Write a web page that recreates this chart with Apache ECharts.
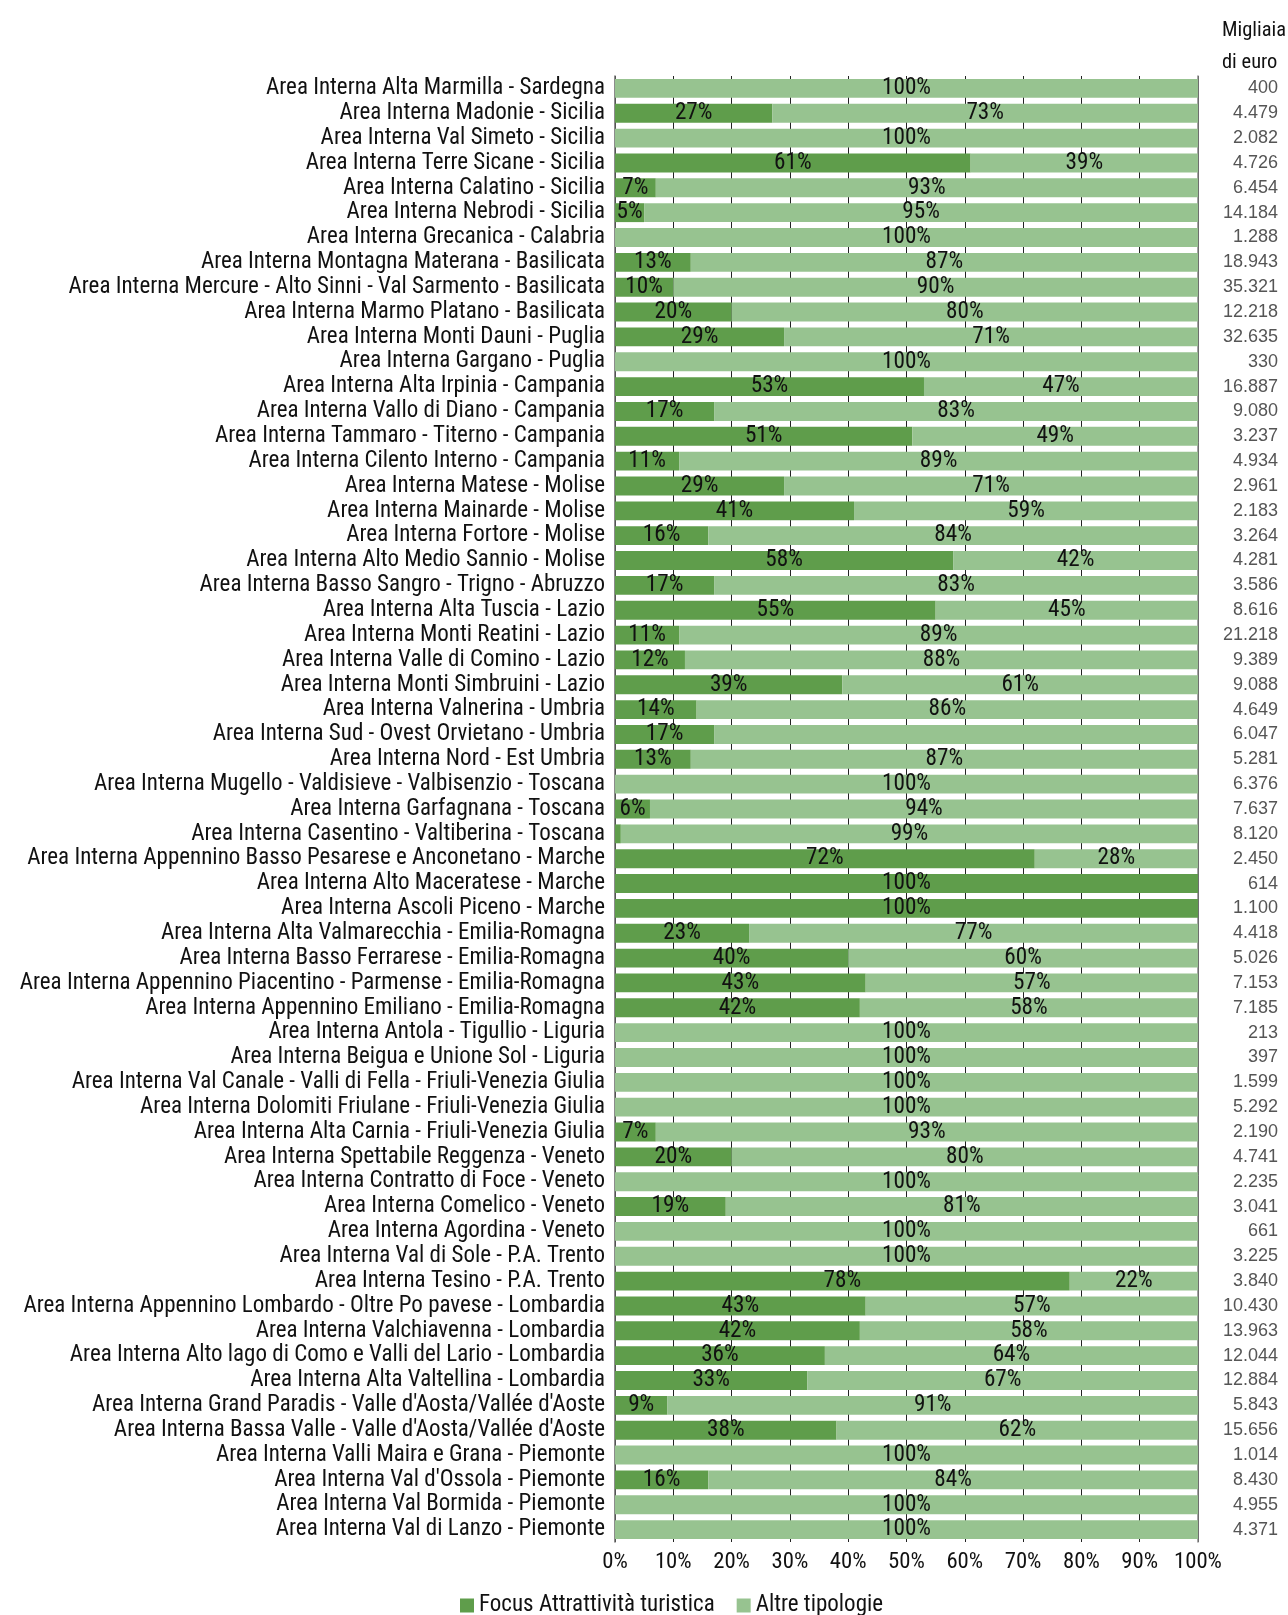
<!DOCTYPE html>
<html>
<head>
<meta charset="utf-8">
<script src="https://cdn.jsdelivr.net/npm/echarts@6/dist/echarts.min.js"></script>
<style>html,body{margin:0;padding:0;background:#fff}#c{width:1288px;height:1615px}</style>
</head>
<body>
<div id="c"></div>
<script>
const categories = [
"Area Interna Alta Marmilla - Sardegna",
"Area Interna Madonie - Sicilia",
"Area Interna Val Simeto - Sicilia",
"Area Interna Terre Sicane - Sicilia",
"Area Interna Calatino - Sicilia",
"Area Interna Nebrodi - Sicilia",
"Area Interna Grecanica - Calabria",
"Area Interna Montagna Materana - Basilicata",
"Area Interna Mercure - Alto Sinni - Val Sarmento - Basilicata",
"Area Interna Marmo Platano - Basilicata",
"Area Interna Monti Dauni - Puglia",
"Area Interna Gargano - Puglia",
"Area Interna Alta Irpinia - Campania",
"Area Interna Vallo di Diano - Campania",
"Area Interna Tammaro - Titerno - Campania",
"Area Interna Cilento Interno - Campania",
"Area Interna Matese - Molise",
"Area Interna Mainarde - Molise",
"Area Interna Fortore - Molise",
"Area Interna Alto Medio Sannio - Molise",
"Area Interna Basso Sangro - Trigno - Abruzzo",
"Area Interna Alta Tuscia - Lazio",
"Area Interna Monti Reatini - Lazio",
"Area Interna Valle di Comino - Lazio",
"Area Interna Monti Simbruini - Lazio",
"Area Interna Valnerina - Umbria",
"Area Interna Sud - Ovest Orvietano - Umbria",
"Area Interna Nord - Est Umbria",
"Area Interna Mugello - Valdisieve - Valbisenzio - Toscana",
"Area Interna Garfagnana - Toscana",
"Area Interna Casentino - Valtiberina - Toscana",
"Area Interna Appennino Basso Pesarese e Anconetano - Marche",
"Area Interna Alto Maceratese - Marche",
"Area Interna Ascoli Piceno - Marche",
"Area Interna Alta Valmarecchia - Emilia-Romagna",
"Area Interna Basso Ferrarese - Emilia-Romagna",
"Area Interna Appennino Piacentino - Parmense - Emilia-Romagna",
"Area Interna Appennino Emiliano - Emilia-Romagna",
"Area Interna Antola - Tigullio - Liguria",
"Area Interna Beigua e Unione Sol - Liguria",
"Area Interna Val Canale - Valli di Fella - Friuli-Venezia Giulia",
"Area Interna Dolomiti Friulane - Friuli-Venezia Giulia",
"Area Interna Alta Carnia - Friuli-Venezia Giulia",
"Area Interna Spettabile Reggenza - Veneto",
"Area Interna Contratto di Foce - Veneto",
"Area Interna Comelico - Veneto",
"Area Interna Agordina - Veneto",
"Area Interna Val di Sole - P.A. Trento",
"Area Interna Tesino - P.A. Trento",
"Area Interna Appennino Lombardo - Oltre Po pavese - Lombardia",
"Area Interna Valchiavenna - Lombardia",
"Area Interna Alto lago di Como e Valli del Lario - Lombardia",
"Area Interna Alta Valtellina - Lombardia",
"Area Interna Grand Paradis - Valle d'Aosta/Vallée d'Aoste",
"Area Interna Bassa Valle - Valle d'Aosta/Vallée d'Aoste",
"Area Interna Valli Maira e Grana - Piemonte",
"Area Interna Val d'Ossola - Piemonte",
"Area Interna Val Bormida - Piemonte",
"Area Interna Val di Lanzo - Piemonte"
];
const focusValues = [0,27,0,61,7,5,0,13,10,20,29,0,53,17,51,11,29,41,16,58,17,55,11,12,39,14,17,13,0,6,1,72,100,100,23,40,43,42,0,0,0,0,7,20,0,19,0,0,78,43,42,36,33,9,38,0,16,0,0];
const altreValues = [100,73,100,39,93,95,100,87,90,80,71,100,47,83,49,89,71,59,84,42,83,45,89,88,61,86,83,87,100,94,99,28,0,0,77,60,57,58,100,100,100,100,93,80,100,81,100,100,22,57,58,64,67,91,62,100,84,100,100];
const totals = ["400","4.479","2.082","4.726","6.454","14.184","1.288","18.943","35.321","12.218","32.635","330","16.887","9.080","3.237","4.934","2.961","2.183","3.264","4.281","3.586","8.616","21.218","9.389","9.088","4.649","6.047","5.281","6.376","7.637","8.120","2.450","614","1.100","4.418","5.026","7.153","7.185","213","397","1.599","5.292","2.190","4.741","2.235","3.041","661","3.225","3.840","10.430","13.963","12.044","12.884","5.843","15.656","1.014","8.430","4.955","4.371"];
const xTicks = [0,10,20,30,40,50,60,70,80,90,100];
const seriesNames = ["Focus Attrattività turistica","Altre tipologie"];
const unitTitle = "Migliaia\ndi euro";
const hiddenFocusLabels = ["Area Interna Casentino - Valtiberina - Toscana"];
const hiddenAltreLabels = ["Area Interna Sud - Ovest Orvietano - Umbria"];

// pick the narrowest installed condensed family
const cv = document.createElement('canvas').getContext('2d');
function w(font, txt){ cv.font = font; return cv.measureText(txt).width; }
const probe = 'Area Interna Alta Marmilla - Sardegna';
const candidates = ['Liberation Sans Narrow','Roboto Condensed','DejaVu Sans Condensed','Open Sans Condensed','Noto Sans Condensed','Liberation Sans'];
let FAM = 'sans-serif';
let best = Infinity;
for (const c of candidates) {
  const a = w('100px "' + c + '",monospace', probe), b = w('100px monospace', probe);
  const a2 = w('100px "' + c + '",serif', probe), b2 = w('100px serif', probe);
  if (Math.abs(a - b) > 0.5 || Math.abs(a2 - b2) > 0.5) { if (a < best) { best = a; FAM = '"' + c + '"'; } }
}
const FONT = FAM + ',sans-serif';
function sizeFor(txt, target, maxS){ const s = 100 * target / w('100px ' + FONT, txt); return Math.min(maxS, Math.round(s * 10) / 10); }
const catSize = sizeFor(probe, 339, 24);
const barSize = sizeFor('100%', 49, 25);
const xSize = sizeFor('100%', 48, 26);
const legSize = sizeFor('Focus Attrattività turistica', 236, 24);
const titleSize = sizeFor('Migliaia', 64, 24);

const chart = echarts.init(document.getElementById('c'), null, {renderer:'canvas'});
function fmt(hidden){
  return p => (p.value > 0 && hidden.indexOf(p.name) < 0) ? p.value + '%' : '';
}
chart.setOption({
  animation:false,
  backgroundColor:'#fff',
  textStyle:{fontFamily:FONT},
  grid:{left:615,right:90,top:76,bottom:73,containLabel:false,outerBoundsMode:'none'},
  legend:{
    data:seriesNames, left:455, top:1589, itemWidth:14, itemHeight:14, itemGap:22,
    icon:'rect', textStyle:{fontFamily:FONT,fontSize:legSize,color:'#111'}
  },
  graphic:[{type:'text', right:2, top:15, style:{text:unitTitle, font:titleSize + 'px ' + FONT, fill:'#111', align:'right', lineHeight:32}}],
  xAxis:{
    type:'value', min:0, max:100, interval:10,
    axisLine:{show:false}, axisTick:{show:false},
    splitLine:{show:true, lineStyle:{color:'#222', width:1}},
    axisLabel:{formatter:v => xTicks.indexOf(v) >= 0 ? v + '%' : '', fontFamily:FONT, fontSize:xSize, color:'#111', margin:9, hideOverlap:false, showMaxLabel:true, showMinLabel:true}
  },
  yAxis:[{
    type:'category', data:categories, inverse:true,
    axisLine:{show:true, lineStyle:{color:'#666', width:1.5}}, axisTick:{show:false},
    axisLabel:{interval:0, fontFamily:FONT, fontSize:catSize, color:'#111', margin:10, hideOverlap:false}
  },{
    type:'category', data:totals, inverse:true, position:'right',
    axisLine:{show:true, lineStyle:{color:'#888', width:1.5}}, axisTick:{show:false},
    axisLabel:{interval:0, fontFamily:'"Liberation Sans",Arial,sans-serif', fontSize:18, color:'#555', margin:80, align:'right', verticalAlign:'middle', padding:[5,0,0,0], hideOverlap:false}
  }],
  series:[{
    name:seriesNames[0], type:'bar', stack:'t', data:focusValues, barCategoryGap:'24%',
    itemStyle:{color:'#5f9d4b'},
    label:{show:true, position:'inside', formatter:fmt(hiddenFocusLabels), fontFamily:FONT, fontSize:barSize, color:'#111', offset:[0,0]}
  },{
    name:seriesNames[1], type:'bar', stack:'t', data:altreValues, barCategoryGap:'24%',
    itemStyle:{color:'#97c390'},
    label:{show:true, position:'inside', formatter:fmt(hiddenAltreLabels), fontFamily:FONT, fontSize:barSize, color:'#111', offset:[0,0]}
  }]
});
</script>
</body>
</html>
